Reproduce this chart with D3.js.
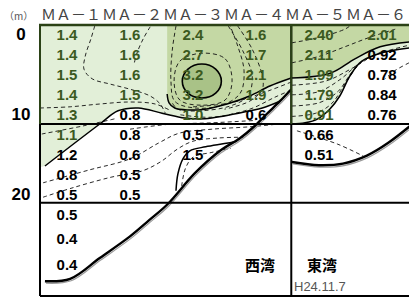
<!DOCTYPE html>
<html><head><meta charset="utf-8">
<script src="https://cdn.jsdelivr.net/npm/d3@7"></script>
<style>body{margin:0;background:#fff}</style>
</head><body>
<svg id="chart" width="409" height="297"></svg>
<script>
// stations and depths
const stations = ["ＭＡ－１","ＭＡ－２","ＭＡ－３","ＭＡ－４","ＭＡ－５","ＭＡ－６"];
const depthTicks = [0, 10, 20];
const sampleDepths = [0, 2.5, 5, 7.5, 10, 12.5, 15, 17.5, 20, 22.5, 25.5, 28.75];

// measured values per station (top to bottom)
const ma1 = [1.4, 1.4, 1.5, 1.4, 1.3, 1.1, 1.2, 0.8, 0.5, 0.5, 0.4, 0.4];
const ma2 = [1.6, 1.6, 1.6, 1.5, 0.8, 0.8, 0.6, 0.5, 0.5];
const ma3 = [2.4, 2.7, 3.2, 3.2, 1.0, 0.5, 1.5];
const ma4 = [1.6, 1.7, 2.1, 1.9, 0.6];
const ma5 = [2.40, 2.11, 1.99, 1.79, 0.91, 0.66, 0.51];
const ma6 = [2.01, 0.92, 0.78, 0.84, 0.76];
const decimals = [1, 1, 1, 1, 2, 2];

const layerDepths = [11.25, 21.1];
const bayDivide = 4.56;
const bayNames = ["西湾", "東湾"];
const dateLabel = "H24.11.7";

// contour shapes [station, depth]
const westLight = [[0.5,-2],[4.56,-2],[4.56,6.9],[4.38,8.4],[4.1,9.25],[3.9,9.6],[3.5,10.25],[3.19,10.6],[2.87,10.5],[2.51,9.9],[2.13,9.25],[1.81,9.6],[1.52,11.25],[0.65,16.5],[0.5,16.8]];
const westMid = [[2.59,-2],[4.56,-2],[4.56,5.5],[4.22,6.5],[3.9,7.75],[3.54,8.75],[3.19,9.4],[2.92,9.5],[2.71,9.25],[2.62,8.6],[2.59,7.5]];
const westCore = [[3.14,3.75],[3.36,4.4],[3.45,5.9],[3.36,7.4],[3.14,8.0],[2.92,7.4],[2.83,5.9],[2.92,4.4]];
const eastMid = [[4.56,-2],[6.6,-2],[6.6,0.9],[6.43,1.0],[5.97,1.6],[5.57,3.1],[5.18,4.9],[4.56,5.5]];
const eastLight = [[4.56,5.5],[5.18,4.9],[5.57,3.1],[5.97,1.6],[6.43,1.0],[6.6,0.9],[6.6,1.6],[6.43,1.75],[6.05,2.25],[5.68,3.4],[5.49,5.25],[5.33,7.75],[5.17,9.4],[4.98,10.6],[4.78,11.1],[4.56,11.25]];
const tongue = [[2.73,19.6],[2.76,17.5],[2.84,15.6],[2.95,14.6],[3.2,14.1],[3.5,13.7],[3.7,13.4]];

const dashedLines = [
  [[1.44,-1],[1.38,0.6],[1.29,2.75],[1.27,4.4],[1.4,5.6],[1.68,6.25],[2.0,6.9],[2.32,7.75],[2.48,8.75],[2.56,9.9]],
  [[2.32,-0.9],[2.21,0.6],[2.11,2.4],[2.06,3.9]],
  [[0.57,9.25],[1.05,9.1],[1.52,8.75],[2.0,8.5],[2.4,8.75],[2.65,9.6]],
  [[0.6,12.5],[1.25,11.5],[1.76,10.6]],
  [[0.62,18.6],[1.35,17],[2.0,15.6],[2.46,13.6],[2.78,12.4],[3.3,11.9],[3.9,11.6],[4.3,11.3]],
  [[2.0,11.9],[2.6,11.3],[3.3,11.1],[4.0,10.8]],
  [[0.62,20.4],[1.1,19.2],[1.7,17.9],[2.2,17.1],[2.5,15.9],[2.75,14.4],[3.0,13.4],[3.4,13.0],[3.8,12.9]],
  [[2.82,19.0],[2.88,16.8],[3.0,15.4],[3.3,14.8],[3.6,14.3]],
  [[2.73,-1],[2.67,2.1],[2.65,5.9],[2.71,8.4],[3.03,9.25],[3.46,8.9],[3.75,7.4],[3.81,4.6],[3.71,1.5],[3.59,-1]],
  [[3.56,-1],[3.79,2.1],[3.94,5.25],[3.87,7.75],[3.59,9.0],[3.11,9.6],[2.76,9.4],[2.67,8.6]],
  [[3.71,-1],[3.94,1.9],[4.1,5.25],[4.1,6.9],[3.9,8.4],[3.5,9.4]],
  [[3.0,9.1],[3.6,8.6],[4.2,7.1],[4.56,6.0]],
  [[2.8,10.1],[3.3,10.4],[3.9,9.4],[4.3,7.9],[4.56,7.0]],
  [[4.57,1.1],[5.02,0.4],[5.41,-0.6],[5.49,-1]],
  [[4.57,3.6],[5.02,2.75],[5.41,1.6],[5.81,0.4],[6.21,-0.6]],
  [[4.57,6.4],[5.1,5.9],[5.5,4.4],[5.9,2.6],[6.43,1.4]],
  [[4.57,7.6],[5.0,7.2],[5.35,5.6],[5.65,3.6],[6.0,2.2]],
  [[4.57,9.0],[5.0,8.6],[5.3,7.2],[5.5,5.0],[5.7,3.3]],
  [[4.57,10.3],[4.95,9.9],[5.2,8.7],[5.4,6.4],[5.6,4.0]],
  [[4.65,12.1],[5.29,13.75],[5.7,15.25]],
  [[6.43,3.6],[6.2,4.6],[6.05,5.6]]
];
const ringLines = [
  [[3.14,2.4],[3.51,3.1],[3.62,5.9],[3.51,8.25],[3.14,8.9],[2.79,8.25],[2.7,5.9],[2.79,3.4]]
];
const seabedWest = [[0.65,30.9],[1.05,30.6],[1.52,28],[2.0,25.3],[2.3,23.3],[2.6,21.25],[3.03,17.4],[3.43,14.6],[3.75,13.0],[3.98,11.5],[4.17,10.0],[4.38,8.4],[4.56,6.9]];
const seabedEast = [[4.57,16.0],[5.0,16.4],[5.38,16.2],[5.76,15.2],[6.1,13.6],[6.6,10.5]];

const frameL = 40, frameT = 25, frameR = 409, frameB = 296;

const svg = d3.select("#chart");
const x = d3.scaleLinear().domain([1, 6]).range([67, 382]);
const y = d3.scaleLinear().domain([0, 10]).range([34, 114]);
const hdr = d3.scaleBand().domain(stations).range([41, 41 + 61 * 6]);

const green = "#3b5a1f", frameGreen = "#2b4216";
const fills = {light: "#e2efd8", mid: "#c4d8a4", core: "#a9c287"};

svg.append("defs").append("clipPath").attr("id", "frame")
  .append("rect").attr("x", frameL).attr("y", frameT).attr("width", frameR - frameL).attr("height", frameB - frameT);

const plot = svg.append("g").attr("clip-path", "url(#frame)");

const area = d3.line().x(d => x(d[0])).y(d => y(d[1])).curve(d3.curveLinearClosed);
const smooth = d3.line().x(d => x(d[0])).y(d => y(d[1])).curve(d3.curveCatmullRom);
const closedSmooth = d3.line().x(d => x(d[0])).y(d => y(d[1])).curve(d3.curveCatmullRomClosed);

plot.append("path").attr("d", area(westLight)).attr("fill", fills.light);
plot.append("path").attr("d", area(eastLight)).attr("fill", fills.light);
plot.append("path").attr("d", area(westMid)).attr("fill", fills.mid);
plot.append("path").attr("d", area(eastMid)).attr("fill", fills.mid);
plot.append("path").attr("d", closedSmooth(westCore)).attr("fill", fills.core);

// dashed contours
plot.selectAll(".dash").data(dashedLines).join("path")
  .attr("class", "dash")
  .attr("d", smooth)
  .attr("fill", "none").attr("stroke", "#111").attr("stroke-width", 0.9)
  .attr("stroke-dasharray", "4,3");
plot.selectAll(".ring").data(ringLines).join("path")
  .attr("class", "ring")
  .attr("d", closedSmooth)
  .attr("fill", "none").attr("stroke", "#111").attr("stroke-width", 0.9)
  .attr("stroke-dasharray", "4,3");

// solid contours (open parts of the filled shapes)
const solid = [
  westLight.slice(3, 14),
  westMid.slice(2),
  eastMid.slice(3),
  eastLight.slice(7),
  tongue
];
plot.selectAll(".solid").data(solid).join("path")
  .attr("class", "solid")
  .attr("d", smooth)
  .attr("fill", "none").attr("stroke", "#000").attr("stroke-width", 1.5);
plot.append("path").attr("d", closedSmooth(westCore))
  .attr("fill", "none").attr("stroke", "#000").attr("stroke-width", 1.6);

// seabed
[seabedWest, seabedEast].forEach(s => {
  plot.append("path").attr("d", smooth(s)).attr("fill", "none")
    .attr("stroke", "#999").attr("stroke-width", 1.2).attr("transform", "translate(1,2)");
  plot.append("path").attr("d", smooth(s)).attr("fill", "none")
    .attr("stroke", "#000").attr("stroke-width", 2.4);
});

// frame and layer lines
layerDepths.forEach(d => {
  svg.append("line").attr("x1", frameL).attr("x2", frameR)
    .attr("y1", y(d)).attr("y2", y(d)).attr("stroke", "#000").attr("stroke-width", 2);
});
svg.append("line").attr("x1", frameL).attr("x2", frameR).attr("y1", frameB).attr("y2", frameB)
  .attr("stroke", "#000").attr("stroke-width", 2);
svg.append("line").attr("x1", frameL).attr("x2", frameL).attr("y1", frameT).attr("y2", frameB)
  .attr("stroke", "#000").attr("stroke-width", 2);
svg.append("line").attr("x1", x(bayDivide)).attr("x2", x(bayDivide)).attr("y1", frameT).attr("y2", frameB)
  .attr("stroke", "#000").attr("stroke-width", 2);
svg.append("line").attr("x1", frameL).attr("x2", frameL).attr("y1", frameT).attr("y2", y(layerDepths[0]))
  .attr("stroke", frameGreen).attr("stroke-width", 2);
svg.append("line").attr("x1", x(bayDivide)).attr("x2", x(bayDivide)).attr("y1", frameT).attr("y2", y(layerDepths[0]))
  .attr("stroke", frameGreen).attr("stroke-width", 2);
svg.append("line").attr("x1", frameL - 1).attr("x2", frameR).attr("y1", frameT).attr("y2", frameT)
  .attr("stroke", frameGreen).attr("stroke-width", 2.5);

// values
const greenShapes = [westLight, eastLight, westMid, eastMid].map(p => p.map(d => [x(d[0]), y(d[1])]));
const columns = [ma1, ma2, ma3, ma4, ma5, ma6];
columns.forEach((col, i) => {
  const fmt = d3.format("." + decimals[i] + "f");
  svg.append("g").selectAll("text").data(col).join("text")
    .attr("x", x(i + 1))
    .attr("y", (d, j) => y(sampleDepths[j]))
    .attr("text-anchor", "middle")
    .attr("dominant-baseline", "central")
    .style("font-family", "'Liberation Sans', Arial, sans-serif")
    .style("font-size", "15px")
    .style("font-weight", "bold")
    .attr("fill", (d, j) => greenShapes.some(p => d3.polygonContains(p, [x(i + 1), y(sampleDepths[j])])) ? green : "#000")
    .text(fmt);
});

// depth ticks
svg.append("g").selectAll("text").data(depthTicks).join("text")
  .attr("x", 21).attr("y", d => y(d))
  .attr("text-anchor", "middle").attr("dominant-baseline", "central")
  .style("font-family", "'Liberation Sans', Arial, sans-serif")
  .style("font-size", "17px").style("font-weight", "bold")
  .text(d => d);

svg.append("text").attr("x", 4).attr("y", 20)
  .style("font-family", "'Noto Sans CJK JP'").style("font-size", "10px").attr("fill", "#555")
  .text("（m）");

svg.append("g").selectAll("text").data(stations).join("text")
  .attr("x", d => hdr(d)).attr("y", 20)
  .style("font-family", "'Noto Sans CJK JP'").style("font-size", "15px").attr("fill", "#444")
  .text(d => d);

// bay names and date
svg.append("text").attr("x", 260).attr("y", 264).attr("text-anchor", "middle").attr("dominant-baseline", "central")
  .style("font-family", "'Noto Sans CJK JP'").style("font-size", "15px").style("font-weight", "bold")
  .text(bayNames[0]);
svg.append("text").attr("x", 322).attr("y", 264).attr("text-anchor", "middle").attr("dominant-baseline", "central")
  .style("font-family", "'Noto Sans CJK JP'").style("font-size", "15px").style("font-weight", "bold")
  .text(bayNames[1]);
svg.append("text").attr("x", 294).attr("y", 291)
  .style("font-family", "'Liberation Sans', Arial, sans-serif").style("font-size", "13px").attr("fill", "#555")
  .text(dateLabel);
</script>
</body></html>
